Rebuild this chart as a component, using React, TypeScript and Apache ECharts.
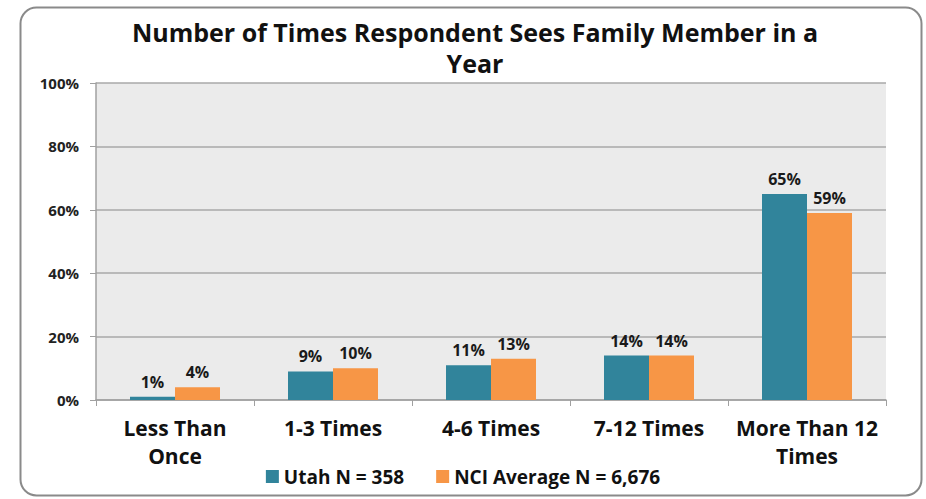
import React, { useEffect, useRef } from "react";
import * as echarts from "echarts";

const categories = ["Less Than\nOnce", "1-3 Times", "4-6 Times", "7-12 Times", "More Than 12\nTimes"];
const utahValues = [1, 9, 11, 14, 65];
const nciValues = [4, 10, 13, 14, 59];
const seriesNames = ["Utah N = 358", "NCI Average N = 6,676"];
const titleText = "Number of Times Respondent Sees Family Member in a\nYear";

const FONT = "'Open Sans', 'Noto Sans', sans-serif";

export default function App() {
  const ref = useRef<HTMLDivElement>(null);
  useEffect(() => {
    if (!ref.current) return;
    const chart = echarts.init(ref.current, null, { renderer: "svg" });
    const labelStyle = {
      show: true,
      position: "top" as const,
      formatter: "{c}%",
      fontFamily: FONT,
      fontWeight: "bold" as const,
      fontSize: 16,
      color: "#1a1a1a",
      distance: 7,
    };
    chart.setOption({
      animation: false,
      backgroundColor: "#ffffff",
      graphic: [
        {
          type: "rect",
          left: 18,
          top: 5,
          shape: { width: 901, height: 488, r: 16 },
          style: { fill: "none", stroke: "#8a8a8a", lineWidth: 2 },
          z: -1,
        },
      ],
      title: {
        text: titleText,
        left: 470,
        textAlign: "center",
        top: 11,
        textStyle: {
          fontFamily: FONT,
          fontWeight: "bold",
          fontSize: 25,
          lineHeight: 31,
          color: "#111",
        },
      },
      legend: {
        top: 462,
        left: "center",
        itemWidth: 13,
        itemHeight: 13,
        itemGap: 32,
        icon: "rect",
        textStyle: { fontFamily: FONT, fontWeight: "bold", fontSize: 19, color: "#111" },
        data: seriesNames,
      },
      grid: {
        left: 96,
        right: 40,
        top: 83,
        bottom: 99,
        show: true,
        backgroundColor: "#ebebeb",
        borderWidth: 0,
      },
      xAxis: {
        type: "category",
        data: categories,
        axisLine: { lineStyle: { color: "#a0a0a0", width: 1.5 } },
        axisTick: { show: true, length: 6, lineStyle: { color: "#a0a0a0" } },
        axisLabel: {
          interval: 0,
          margin: 14,
          fontFamily: FONT,
          fontWeight: "bold",
          fontSize: 21,
          lineHeight: 28,
          color: "#111",
        },
      },
      yAxis: {
        type: "value",
        min: 0,
        max: 100,
        interval: 20,
        axisLine: { show: true, lineStyle: { color: "#a0a0a0", width: 1.5 } },
        axisTick: { show: true, length: 6, lineStyle: { color: "#a0a0a0" } },
        splitLine: { lineStyle: { color: "#a8a8a8", width: 1.5 } },
        axisLabel: {
          formatter: "{value}%",
          margin: 17,
          fontFamily: FONT,
          fontWeight: "bold",
          fontSize: 15,
          color: "#222",
        },
      },
      series: [
        {
          name: seriesNames[0],
          type: "bar",
          data: utahValues,
          barWidth: 45,
          barGap: "0%",
          itemStyle: { color: "#31849b" },
          label: labelStyle,
        },
        {
          name: seriesNames[1],
          type: "bar",
          data: nciValues,
          barWidth: 45,
          barGap: "0%",
          itemStyle: { color: "#f79646" },
          label: labelStyle,
        },
      ],
    });
    return () => chart.dispose();
  }, []);
  return (
    <div
      ref={ref}
      style={{ position: "fixed", left: 0, top: 0, width: 926, height: 499 }}
    />
  );
}
